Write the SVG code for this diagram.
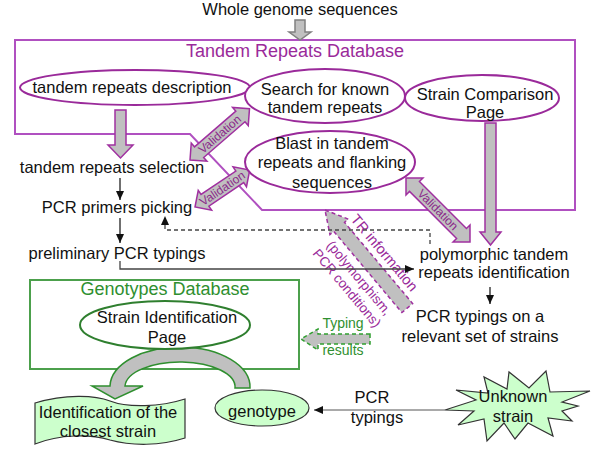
<svg xmlns="http://www.w3.org/2000/svg" width="600" height="450" viewBox="0 0 600 450">
<style>
text{font-family:"Liberation Sans",Arial,sans-serif;font-size:16.5px;fill:#111;text-anchor:middle}
.title{font-size:18px}
.pt{fill:#9a2a9a}
.gt{fill:#2f8f2f}
.pe{fill:#fff;stroke:#9a2a9a;stroke-width:2}
.ge{fill:#fff;stroke:#2f7f2f;stroke-width:2}
.lg{fill:#ccffcc;stroke:#333;stroke-width:1.2}
.blk{fill:#c0c0c0;stroke:#a030a0;stroke-width:1.5}
.val{font-size:12px;fill:#8a2a8a}
.ln{fill:none;stroke:#222;stroke-width:1.3}
</style>
<defs>
<marker id="ah" markerUnits="userSpaceOnUse" markerWidth="9" markerHeight="8" refX="9" refY="4" orient="auto"><path d="M0,0 L9,4 L0,8 z" fill="#111"/></marker>
</defs>

<!-- frames -->
<g id="tandem-db">
<polygon points="15,40 575,40 575,210 262,210 190,134 15,134" fill="none" stroke="#b050c0" stroke-width="2"/>
<text class="title pt" x="295" y="57">Tandem Repeats Database</text>
</g>
<g id="genotypes-db">
<rect x="30" y="280" width="269" height="89" fill="none" stroke="#4ca04c" stroke-width="2"/>
<text class="title gt" x="165" y="295">Genotypes Database</text>
</g>

<!-- connectors -->
<g id="connectors">
<polygon class="blk" style="stroke:#808080" points="295,20 305,20 305,32 311,32 300,40 289,32 295,32"/>
<polygon class="blk" points="115,110 126,110 126,145 133,145 120.5,158 108,145 115,145"/>
<polygon class="blk" points="485,123 496,123 496,232 501,232 490.5,245 480,232 485,232"/>
<g transform="translate(190,160) rotate(-40.8)">
<polygon class="blk" points="0,0 12,-12 12,-7 66.6,-7 66.6,-12 78.6,0 66.6,12 66.6,7 12,7 12,12"/>
<text class="val" x="39.3" y="4">Validation</text>
</g>
<g transform="translate(195,207) rotate(-34)">
<polygon class="blk" points="0,0 12,-12 12,-7 54,-7 54,-12 66,0 54,12 54,7 12,7 12,12"/>
<text class="val" x="33" y="4">Validation</text>
</g>
<g transform="translate(406,178) rotate(45)">
<polygon class="blk" points="0,0 12,-12 12,-7 78.5,-7 78.5,-12 90.5,0 78.5,12 78.5,7 12,7 12,12"/>
<text class="val" x="45" y="4">Validation</text>
</g>
<g transform="translate(325,210) rotate(50)">
<polygon points="0,0 22,-12 22,-7 128,-7 128,7 22,7 22,12" fill="#c0c0c0" stroke="#a030a0" stroke-width="1.5" stroke-dasharray="4,3"/>
<text class="pt" style="font-size:14.5px" x="71" y="-13">TR information</text>
<text class="pt" style="font-size:13.5px" x="74" y="22">(polymorphism,</text>
<text class="pt" style="font-size:13.5px" x="74" y="38">PCR conditions)</text>
</g>
<polygon points="370,334 318,334 318,329 301,339 318,350 318,344 370,344" fill="#c0c0c0" stroke="#2f9f2f" stroke-width="1.5" stroke-dasharray="4,3"/>
<text class="gt" style="font-size:14px" x="343" y="328">Typing</text>
<text class="gt" style="font-size:14px" x="343" y="355">results</text>
<path d="M250,388 A70,40 0 0 0 110,386 L92,386 L115,399 L143,386 L125,386 A55,25 0 0 1 235,388 Z" fill="#c0c0c0" stroke="#2f8f2f" stroke-width="1.5"/>
<path class="ln" d="M120,178 L120,200" marker-end="url(#ah)"/>
<path class="ln" d="M120,218 L120,243" marker-end="url(#ah)"/>
<path class="ln" style="stroke:#444" d="M120,261 L120,269 L414,269" marker-end="url(#ah)"/>
<path class="ln" style="stroke:#444;stroke-dasharray:4,3" d="M430,244 L430,230 L165,230 L165,216" marker-end="url(#ah)"/>
<path class="ln" d="M490,287 L490,304" marker-end="url(#ah)"/>
<path class="ln" style="stroke:#555;stroke-width:1" d="M445,410 L314,410" marker-end="url(#ah)"/>
<text x="372" y="403">PCR</text>
<text x="377" y="423">typings</text>
</g>

<!-- nodes -->
<g id="whole-genome"><text x="300" y="15">Whole genome sequences</text></g>
<g id="tr-description">
<ellipse class="pe" cx="135" cy="87.5" rx="115" ry="17.5"/>
<text x="132" y="93">tandem repeats description</text>
</g>
<g id="search-known">
<ellipse class="pe" cx="325" cy="96" rx="80" ry="27"/>
<text x="325" y="95">Search for known</text>
<text x="325" y="113">tandem repeats</text>
</g>
<g id="strain-comparison">
<ellipse class="pe" cx="482" cy="98" rx="77" ry="23"/>
<text x="485" y="100">Strain Comparison</text>
<text x="485" y="118">Page</text>
</g>
<g id="blast">
<ellipse class="pe" cx="330" cy="162" rx="85" ry="31"/>
<text x="332" y="149">Blast in tandem</text>
<text x="332" y="168">repeats and flanking</text>
<text x="332" y="188">sequences</text>
</g>
<g id="tr-selection"><text x="112" y="173">tandem repeats selection</text></g>
<g id="pcr-primers"><text x="117" y="213">PCR primers picking</text></g>
<g id="preliminary"><text x="117" y="259">preliminary PCR typings</text></g>
<g id="polymorphic">
<text x="494" y="260">polymorphic tandem</text>
<text x="494" y="278">repeats identification</text>
</g>
<g id="pcr-relevant">
<text x="480" y="322">PCR typings on a</text>
<text x="480" y="342">relevant set of strains</text>
</g>
<g id="strain-identification">
<ellipse class="ge" cx="165" cy="325" rx="85" ry="24"/>
<text x="167" y="323">Strain Identification</text>
<text x="167" y="343">Page</text>
</g>
<g id="genotype">
<ellipse class="lg" cx="262" cy="408" rx="47" ry="18"/>
<text x="262" y="417">genotype</text>
</g>
<g id="closest-strain">
<path class="lg" d="M35,403 C65,394 95,395 110,401 C128,408 160,407 185,399 L185,438 C160,446 132,446 110,440 C90,434 60,434 35,444 Z"/>
<text x="108" y="418">Identification of the</text>
<text x="108" y="437">closest strain</text>
</g>
<g id="unknown-strain">
<polygon class="lg" points="445,410 476,400 456,390 488,393 484,377 507,389 509,372 529,388 546,371 550,392 590,391 562,402 578,406 562,411 572,421 548,418 553,436 528,423 515,439 504,423 487,441 484,419 458,425 474,411"/>
<text x="513" y="402">Unknown</text>
<text x="513" y="422">strain</text>
</g>
</svg>
